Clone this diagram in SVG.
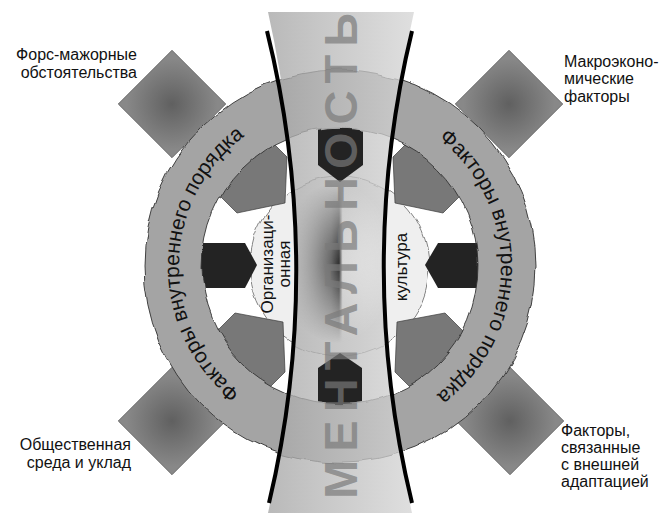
<svg xmlns="http://www.w3.org/2000/svg" width="668" height="513" viewBox="0 0 668 513">
<defs>
<style>
.lbl{font-family:"Liberation Sans",Arial,sans-serif;font-size:16px;fill:#111}
.ringt{font-family:"Liberation Sans",Arial,sans-serif;font-size:21px;fill:#111}
.int{font-family:"Liberation Sans",Arial,sans-serif;font-size:17px;fill:#111}
.sq{fill:url(#sqG);stroke:#555;stroke-width:0.7}
.gp{fill:#787878;stroke:#3c3c3c;stroke-width:0.7}
.dp{fill:#232323}
.bl{fill:none;stroke:#000;stroke-width:4}
</style>
<radialGradient id="sqG" cx="0.5" cy="0.5" r="0.6"><stop offset="0" stop-color="#606060"/><stop offset="1" stop-color="#888888"/></radialGradient>
<filter id="wave" x="-6%" y="-6%" width="112%" height="112%">
<feTurbulence type="fractalNoise" baseFrequency="0.04" numOctaves="1" seed="4" result="n"/>
<feDisplacementMap in="SourceGraphic" in2="n" scale="9" xChannelSelector="R" yChannelSelector="G"/>
</filter>
<filter id="wave2" x="-10%" y="-10%" width="120%" height="120%">
<feTurbulence type="fractalNoise" baseFrequency="0.045" numOctaves="1" seed="9" result="n"/>
<feDisplacementMap in="SourceGraphic" in2="n" scale="9" xChannelSelector="R" yChannelSelector="G"/>
</filter>
<path id="ringShape" fill-rule="evenodd" d="M144,266a196,196 0 1,0 392,0a196,196 0 1,0 -392,0ZM202,266a138,138 0 1,0 276,0a138,138 0 1,0 -276,0Z"/>
<mask id="noRing" maskUnits="userSpaceOnUse" x="0" y="0" width="668" height="513">
<rect width="668" height="513" fill="#fff"/>
<use href="#ringShape" fill="#000" stroke="#000" stroke-width="1.5" filter="url(#wave)"/>
</mask>
<linearGradient id="bandG" x1="268" y1="0" x2="414" y2="0" gradientUnits="userSpaceOnUse">
<stop offset="0" stop-color="#a6a6a6"/><stop offset="1" stop-color="#d6d6d6"/>
</linearGradient>
<clipPath id="bandClip"><path d="M268,12L414,12A1150,1150 0 0 0 412,513L268,513A1150,1150 0 0 0 268,12Z"/></clipPath>
<linearGradient id="coneG" x1="296" y1="0" x2="384" y2="0" gradientUnits="userSpaceOnUse">
<stop offset="0" stop-color="#a8a8a8"/><stop offset="0.4" stop-color="#5a5a5a"/><stop offset="0.49" stop-color="#303030"/><stop offset="0.53" stop-color="#d8d8d8"/><stop offset="1" stop-color="#f6f6f6"/>
</linearGradient>
<radialGradient id="fadeG"><stop offset="0" stop-color="#fff"/><stop offset="0.35" stop-color="#aaa"/><stop offset="1" stop-color="#000"/></radialGradient>
<mask id="fadeM" maskUnits="userSpaceOnUse" x="0" y="0" width="668" height="513"><ellipse cx="338" cy="263" rx="60" ry="80" fill="url(#fadeG)"/></mask>
<path id="arcL" d="M257.1,404A161,161 0 0 1 261.9,125.2"/>
<path id="arcR" d="M421.7,127.3A161,161 0 0 1 419.3,406.1"/>
</defs>

<g id="squares">
<rect class="sq" x="-38" y="-38" width="76" height="76" transform="translate(172,104) rotate(45)"/>
<rect class="sq" x="-38" y="-38" width="76" height="76" transform="translate(509,104) rotate(45)"/>
<rect class="sq" x="-38" y="-38" width="76" height="76" transform="translate(172,421) rotate(45)"/>
<rect class="sq" x="-38" y="-38" width="76" height="76" transform="translate(510,421) rotate(45)"/>
</g>

<g id="inner-circle">
<circle cx="340" cy="266" r="90" fill="#efefef" stroke="#666" stroke-width="0.8" filter="url(#wave2)"/>
</g>

<g id="gray-pentagons">
<polygon class="gp" points="285,203 287,157 247,117 197,173 237,213"/>
<polygon class="gp" points="395,203 393,157 433,117 483,173 443,213"/>
<polygon class="gp" points="397,322 445,313 485,353 435,412 395,372"/>
<polygon class="gp" points="283,322 235,313 195,353 245,412 285,372"/>
</g>

<g id="dark-side-arrows">
<polygon class="dp" points="185,243 245,243 257,265 245,288 185,288"/>
<polygon class="dp" points="495,243 438,243 425,265 438,288 495,288"/>
</g>

<g id="ring">
<use href="#ringShape" fill="#a4a4a4" stroke="#333" stroke-width="0.9" filter="url(#wave)"/>
</g>

<g id="band">
<path d="M268,12L414,12A1150,1150 0 0 0 412,513L268,513A1150,1150 0 0 0 268,12Z" fill="url(#bandG)" fill-opacity="0.78"/>
<rect x="288" y="150" width="104" height="230" fill="url(#coneG)" mask="url(#fadeM)" clip-path="url(#bandClip)"/>
</g>

<g id="dark-band-arrows" mask="url(#noRing)">
<polygon class="dp" points="318,110 363,110 363,165 340,182 318,165"/>
<polygon class="dp" points="318,420 362,420 362,368 340,353 318,368"/>
</g>

<g id="connectors">
<path class="bl" d="M267,31A1000,1000 0 0 1 269,503"/>
<path class="bl" d="M412,31A1000,1000 0 0 0 412,503"/>
</g>

<g id="mentality">
<text transform="translate(357,499) rotate(-90)" font-family="Liberation Sans, Arial, sans-serif" font-weight="bold" font-size="47" textLength="486" lengthAdjust="spacing" fill="#7a7a7a" fill-opacity="0.7">МЕНТАЛЬНОСТЬ</text>
</g>

<g id="ring-labels">
<text class="ringt"><textPath href="#arcL" startOffset="50%" text-anchor="middle">Факторы внутреннего порядка</textPath></text>
<text class="ringt"><textPath href="#arcR" startOffset="50%" text-anchor="middle">Факторы внутреннего порядка</textPath></text>
</g>

<g id="culture-label">
<text class="int" transform="translate(273,264) rotate(-90)" text-anchor="middle">Организаци-</text>
<text class="int" transform="translate(290,264) rotate(-90)" text-anchor="middle">онная</text>
<text class="int" transform="translate(407,267) rotate(-90)" text-anchor="middle">культура</text>
</g>

<g id="label-force-majeure">
<text class="lbl" x="137" y="60" text-anchor="end">Форс-мажорные</text>
<text class="lbl" x="137" y="77.5" text-anchor="end">обстоятельства</text>
</g>
<g id="label-macro">
<text class="lbl" x="564" y="66.5">Макроэконо-</text>
<text class="lbl" x="564" y="84">мические</text>
<text class="lbl" x="564" y="101.5">факторы</text>
</g>
<g id="label-society">
<text class="lbl" x="131" y="450" text-anchor="end">Общественная</text>
<text class="lbl" x="131" y="467.5" text-anchor="end">среда и уклад</text>
</g>
<g id="label-adaptation">
<text class="lbl" x="561" y="435.5">Факторы,</text>
<text class="lbl" x="561" y="452.5">связанные</text>
<text class="lbl" x="561" y="469.5">с внешней</text>
<text class="lbl" x="561" y="486.5">адаптацией</text>
</g>
</svg>
